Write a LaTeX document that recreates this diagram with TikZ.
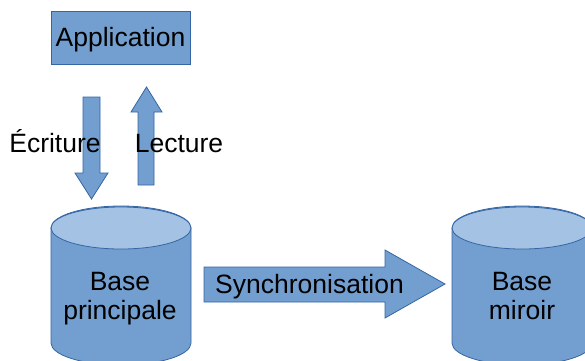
\documentclass[tikz,border=0pt]{standalone}
\usepackage{fontspec}
\setmainfont{Liberation Sans}
\definecolor{boxblue}{HTML}{729FCF}
\definecolor{edgeblue}{HTML}{3465A4}
\definecolor{topblue}{HTML}{A4C2E4}
\begin{document}
\begin{tikzpicture}[x=1bp,y=-1bp,
  blueshape/.style={fill=boxblue,draw=edgeblue,line width=0.8bp,line join=miter},
  lbl/.style={font=\fontsize{26.5bp}{29bp}\selectfont,anchor=base,inner sep=0pt,text=black},
  lbltwo/.style={font=\fontsize{26.5bp}{29bp}\selectfont,anchor=base,inner sep=0pt,text=black,align=center}]
\useasboundingbox (0,0) rectangle (585,360);
\clip (0,0) rectangle (585,360);
% Application box
\draw[blueshape] (51,11) rectangle (190,64);
\node[lbl] (app) at (120.5,46) {Application};
% down arrow (Ecriture)
\draw[blueshape] (83,97) -- (100,97) -- (100,173) -- (108,173) -- (91.5,199) -- (75,173) -- (83,173) -- cycle;
% up arrow (Lecture)
\draw[blueshape] (138,185) -- (154,185) -- (154,112) -- (162,112) -- (146.5,87) -- (131,112) -- (138,112) -- cycle;
\node[lbl] (ecr) at (55,152) {Écriture};
\node[lbl] (lec) at (179,152) {Lecture};
% cylinder 1
\draw[blueshape] (51,228) -- (51,343) arc[start angle=180,end angle=0,x radius=70,y radius=22] -- (191,228) arc[start angle=0,end angle=-180,x radius=70,y radius=22] -- cycle;
\draw[blueshape,fill=topblue] (121,228) ellipse[x radius=70,y radius=21];
\node[lbltwo] (bp) at (120,319) {Base\\principale};
% cylinder 2
\draw[blueshape] (452,228) -- (452,343) arc[start angle=180,end angle=0,x radius=70,y radius=22] -- (592,228) arc[start angle=0,end angle=-180,x radius=70,y radius=22] -- cycle;
\draw[blueshape,fill=topblue] (522,228) ellipse[x radius=70,y radius=21];
\node[lbltwo] (bm) at (522,319) {Base\\miroir};
% synchronisation arrow
\draw[blueshape] (204,267) -- (385,267) -- (385,250) -- (445,284) -- (385,318) -- (385,302) -- (204,302) -- cycle;
\node[lbl] (sync) at (309.5,293) {Synchronisation};
\end{tikzpicture}
\end{document}
